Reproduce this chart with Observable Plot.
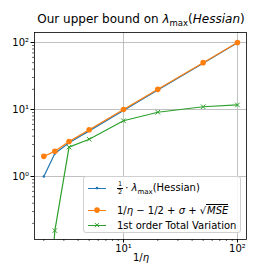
<!DOCTYPE html>
<html><head><meta charset="utf-8">
<script src="https://cdn.jsdelivr.net/npm/d3@7"></script>
<script src="https://cdn.jsdelivr.net/npm/@observablehq/plot@0.6"></script>
<style>
body{margin:0;background:#fff;font-family:"DejaVu Sans",sans-serif;}
#wrap{position:relative;width:274px;height:274px;overflow:hidden;background:#fff;}
#title{position:absolute;left:0;width:282px;top:12px;text-align:center;font-size:12px;white-space:nowrap;}
#xlabel{position:absolute;left:0;width:282px;top:252px;text-align:center;font-size:10px;}
#legend{position:absolute;left:83px;top:176px;width:158px;height:57px;border:1px solid #d0d0d0;border-radius:3px;background:rgba(255,255,255,0.85);box-sizing:border-box;font-size:10px;}
.row{position:absolute;left:0;height:16px;display:flex;align-items:center;white-space:nowrap;}
.sw{position:relative;width:18px;height:10px;margin-left:4px;margin-right:11px;flex:none;}
.sw .ln{position:absolute;left:0;right:0;top:4.5px;height:1.3px;}
.frac{display:inline-flex;flex-direction:column;align-items:center;font-size:6.5px;line-height:6.5px;vertical-align:middle;margin-right:2px;}
.frac .num{border-bottom:0.6px solid #000;padding:0 1px;}
.sub{font-size:7px;position:relative;top:2.5px;}
.sq{border-top:0.8px solid #000;font-style:italic;padding-left:1px;}
</style></head>
<body>
<div id="wrap">
<div id="chart" style="position:absolute;left:0;top:0;"></div>
<div id="title">Our upper bound on <i>λ</i><span class="sub" style="font-size:8.5px;top:3px">max</span>(<i>Hessian</i>)</div>
<div id="xlabel">1/<i>η</i></div>
<div id="legend">
  <div class="row" style="top:3px"><div class="sw"><div class="ln" style="background:#1f77b4"></div><svg width="18" height="10" style="position:absolute;left:0;top:0"><circle cx="9" cy="5.1" r="1.3" fill="#1f77b4"/></svg></div><span><span class="frac"><span class="num">1</span><span>2</span></span>·&nbsp;<i>λ</i><span class="sub">max</span>(Hessian)</span></div>
  <div class="row" style="top:25px"><div class="sw"><div class="ln" style="background:#ff7f0e"></div><svg width="18" height="10" style="position:absolute;left:0;top:0"><circle cx="9" cy="5.1" r="2.8" fill="#ff7f0e"/></svg></div><span>1/<i>η</i> − 1/2 + <i>σ</i> + √<span class="sq">MSE</span></span></div>
  <div class="row" style="top:40px"><div class="sw"><div class="ln" style="background:#2ca02c"></div><svg width="18" height="10" style="position:absolute;left:0;top:0"><path d="M7,3.1L11,7.1M11,3.1L7,7.1" stroke="#2ca02c" stroke-width="1"/></svg></div><span>1st order Total Variation</span></div>
</div>
</div>
<script>
const invEta = [2, 2.5, 3.33, 5, 10, 20, 50, 100];
const halfLambda = [1.0, 2.2, 3.2, 4.8, 9.7, 19.5, 49, 99];
const upperBound = [2.0, 2.38, 3.33, 4.98, 10.0, 20.0, 50.0, 100];
const totalVariation = [0.001, 0.156, 2.74, 3.6, 6.8, 9.1, 11.0, 11.7];
const xMajor = [10, 100];
const yMajor = [1, 10, 100];
const xMinor = [2,3,4,5,6,7,8,9,20,30,40,50,60,70,80,90];
const yMinor = [0.2,0.3,0.4,0.5,0.6,0.7,0.8,0.9,2,3,4,5,6,7,8,9,20,30,40,50,60,70,80,90];
const sup = {"0":"⁰","1":"¹","2":"²","-":"⁻"};
const fmt = d => "10" + String(Math.round(Math.log10(d))).split("").map(c => sup[c]).join("");

const rows = (ys) => invEta.map((x, i) => ({x, y: ys[i]}));
const blue = "#1f77b4", orange = "#ff7f0e", green = "#2ca02c";

const chart = Plot.plot({
  width: 274, height: 274,
  marginLeft: 34, marginRight: 28, marginTop: 32, marginBottom: 35,
  x: {type: "log", domain: [1.657, 120]},
  y: {type: "log", domain: [0.1148, 141]},
  style: {fontFamily: "DejaVu Sans", fontSize: "10px", color: "black", background: "transparent", overflow: "visible"},
  marks: [
    Plot.gridX(xMajor, {stroke: "#b0b0b0", strokeOpacity: 1, strokeWidth: 0.8}),
    Plot.gridY(yMajor, {stroke: "#b0b0b0", strokeOpacity: 1, strokeWidth: 0.8}),
    Plot.axisX(xMajor, {tickSize: 3.5, tickPadding: 2, tickFormat: fmt, label: null, fontSize: 10}),
    Plot.axisX(xMinor, {tickSize: 2, tickFormat: () => "", label: null, strokeWidth: 0.6}),
    Plot.axisY(yMajor, {tickSize: 3.5, tickPadding: 2, tickFormat: fmt, label: null, fontSize: 10}),
    Plot.axisY(yMinor, {tickSize: 2, tickFormat: () => "", label: null, strokeWidth: 0.6}),
    Plot.line(rows(halfLambda), {x: "x", y: "y", stroke: blue, strokeWidth: 1.2, clip: true}),
    Plot.dot(rows(halfLambda), {x: "x", y: "y", fill: blue, r: 1.3, clip: true}),
    Plot.line(rows(upperBound), {x: "x", y: "y", stroke: orange, strokeWidth: 1.2, clip: true}),
    Plot.dot(rows(upperBound), {x: "x", y: "y", fill: orange, r: 2.8, clip: true}),
    Plot.line(rows(totalVariation), {x: "x", y: "y", stroke: green, strokeWidth: 1.2, clip: true}),
    Plot.dot(rows(totalVariation), {x: "x", y: "y", stroke: green, symbol: "times", r: 2.2, strokeWidth: 1, clip: true}),
    Plot.frame({stroke: "black", strokeWidth: 0.8})
  ]
});
document.getElementById("chart").appendChild(chart);
</script>
</body></html>
